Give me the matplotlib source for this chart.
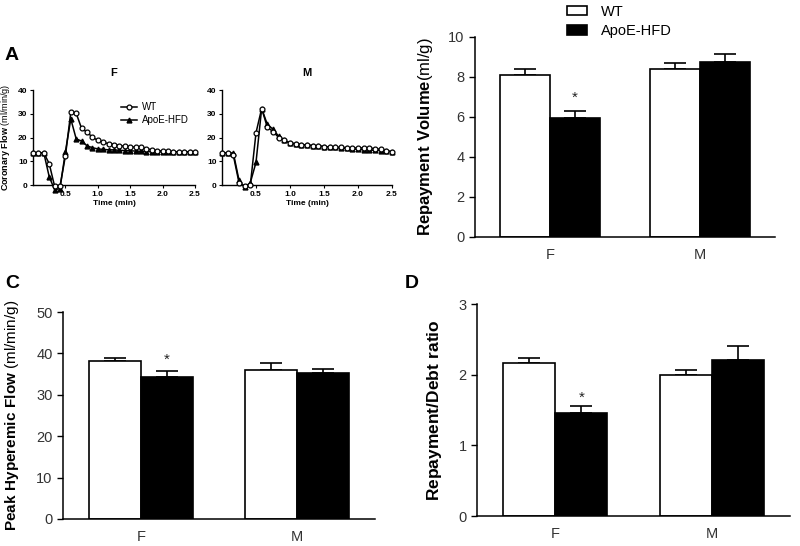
import matplotlib
matplotlib.use("Agg")
from matplotlib import pyplot as plt

plt.rcParams['font.family'] = ['Liberation Sans', 'DejaVu Sans']
plt.rcParams['mathtext.fontset'] = 'custom'
plt.rcParams['mathtext.rm'] = 'Liberation Sans'
plt.rcParams['mathtext.bf'] = 'Liberation Sans:bold'

# time course (seconds, every 5 s)
time_s = [0, 5, 10, 15, 20, 25, 30, 35, 40, 45, 50, 55, 60, 65, 70, 75, 80, 85, 90, 95,
          100, 105, 110, 115, 120, 125, 130, 135, 140, 145, 150]
f_wt = [13.5, 13.5, 13.5, 9.0, -0.5, -0.5, 12.2, 30.7, 30.2, 23.8, 22.3, 20.1, 18.8, 18.0, 17.4, 17.0,
        16.6, 16.3, 16.0, 16.0, 15.9, 15.3, 14.8, 14.5, 14.3, 14.2, 14.0, 14.0, 14.0, 14.0, 14.0]
f_apoe = [13.5, 13.5, 13.5, 3.5, -2.0, -1.5, 14.0, 27.8, 19.4, 18.5, 16.5, 15.7, 15.2, 15.0, 14.8, 14.8,
          14.6, 14.5, 14.4, 14.3, 14.2, 14.1, 14.0, 14.0, 14.0, 13.9, 13.8, 13.8, 13.8, 13.8, 13.8]
m_wt = [13.5, 13.5, 12.5, 1.0, -0.5, 0.0, 22.0, 32.2, 24.3, 22.5, 20.0, 18.8, 17.8, 17.4, 17.0, 16.8,
        16.6, 16.4, 16.2, 16.0, 15.9, 15.8, 15.7, 15.6, 15.6, 15.6, 15.5, 15.3, 15.0, 14.5, 14.0]
m_apoe = [13.5, 13.5, 13.5, 2.0, -1.0, 1.0, 9.5, 32.2, 25.5, 23.5, 20.5, 19.0, 17.5, 17.2, 17.0, 16.8,
          16.6, 16.4, 16.2, 16.0, 15.8, 15.6, 15.4, 15.2, 15.0, 14.8, 14.7, 14.6, 14.5, 14.3, 14.0]

# bar panels: [F, M]
groups = ["F", "M"]
vol_wt, vol_wt_err = [8.1, 8.4], [0.3, 0.28]
vol_apoe, vol_apoe_err = [5.93, 8.75], [0.37, 0.38]
peak_wt, peak_wt_err = [38.1, 36.1], [0.7, 1.5]
peak_apoe, peak_apoe_err = [34.3, 35.3], [1.5, 1.0]
ratio_wt, ratio_wt_err = [2.16, 2.0], [0.07, 0.07]
ratio_apoe, ratio_apoe_err = [1.46, 2.21], [0.09, 0.2]

W, H = 800, 546
fig = plt.figure(figsize=(8, 5.46), dpi=100)


def px_axes(x0, x1, ytop, ybot):
    return fig.add_axes([x0 / W, 1 - ybot / H, (x1 - x0) / W, (ybot - ytop) / H])


def time_panel(ax, wt, apoe, title, show_ylabel, legend):
    t = [s / 60 for s in time_s]
    ax.plot(t, wt, '-o', color='black', mfc='white', mec='black', ms=3.5, mew=0.9, lw=1.1,
            label='WT', clip_on=False, zorder=3)
    ax.plot(t, apoe, '-^', color='black', ms=3.5, lw=1.1, label='ApoE-HFD', clip_on=False, zorder=2)
    ax.set_xlim(0, 2.5)
    ax.set_ylim(0, 40)
    ax.set_xticks([0.5, 1.0, 1.5, 2.0, 2.5])
    ax.set_yticks([0, 10, 20, 30, 40])
    for s in ['top', 'right']:
        ax.spines[s].set_visible(False)
    for s in ['left', 'bottom']:
        ax.spines[s].set_linewidth(1.0)
    ax.tick_params(labelsize=6, length=2.5, width=0.8, pad=1.5)
    for lb in ax.get_xticklabels() + ax.get_yticklabels():
        lb.set_fontweight('bold')
    ax.set_xlabel('Time (min)', fontsize=6, fontweight='bold', labelpad=2)
    ax.set_title(title, fontsize=8, fontweight='bold', pad=10)
    if show_ylabel:
        ax.set_ylabel(r'$\bf{Coronary\ Flow}$ (ml/min/g)', fontsize=6.5)
        ax.yaxis.set_label_coords(-21 / 162, 0.5)
    if legend:
        ax.legend(loc='upper left', bbox_to_anchor=(0.52, 0.91), frameon=False, fontsize=7,
                  handlelength=1.6, handletextpad=0.5, labelspacing=0.3, borderaxespad=0)


def bar_panel(ax, wt, wt_err, apoe, apoe_err, ymax, step, ylabel, lab_off, lab_size, star):
    x = [0, 1]
    bw = 1 / 3
    xw = [v - bw / 2 for v in x]
    xa = [v + bw / 2 for v in x]
    ax.bar(xw, wt, bw, color='white', edgecolor='black', lw=1.2, label='WT', zorder=2)
    ax.bar(xa, apoe, bw, color='black', edgecolor='black', lw=1.2, label='ApoE-HFD', zorder=2)
    ax.errorbar(xw, wt, yerr=[[0, 0], wt_err], fmt='none', ecolor='black', elinewidth=1.2,
                capsize=8, capthick=1.2, zorder=1)
    ax.errorbar(xa, apoe, yerr=[[0, 0], apoe_err], fmt='none', ecolor='black', elinewidth=1.2,
                capsize=8, capthick=1.2, zorder=1)
    ax.text(xa[0], apoe[0] + apoe_err[0] + star, '*', ha='center', va='bottom', fontsize=11, color='#222222')
    ax.set_xlim(-0.5, 1.5)
    ax.set_ylim(0, ymax)
    ax.set_yticks([i * step for i in range(int(round(ymax / step)) + 1)])
    ax.set_xticks(x)
    ax.set_xticklabels(groups)
    for s in ['top', 'right']:
        ax.spines[s].set_visible(False)
    for s in ['left', 'bottom']:
        ax.spines[s].set_linewidth(1.1)
    ax.tick_params(axis='y', labelsize=10.5, length=4, width=1.0, labelcolor='#333333')
    ax.tick_params(axis='x', labelsize=10.5, length=0, pad=8, labelcolor='#333333')
    ax.set_ylabel(ylabel, fontsize=lab_size)
    ax.yaxis.set_label_coords(lab_off, 0.5)


ax_f = px_axes(33, 195, 90, 185)
time_panel(ax_f, f_wt, f_apoe, 'F', True, True)
ax_m = px_axes(222, 392, 90, 185)
time_panel(ax_m, m_wt, m_apoe, 'M', False, False)

ax_b = px_axes(475, 775, 37, 237)
bar_panel(ax_b, vol_wt, vol_wt_err, vol_apoe, vol_apoe_err, 10, 2,
          r'$\bf{Repayment\ Volume}$(ml/g)', -40 / 300, 12, 0.3)
handles, labels = ax_b.get_legend_handles_labels()
fig.legend(handles, labels, loc='upper left', bbox_to_anchor=(567 / W, 1 - 5 / H), frameon=False,
           fontsize=10.5, handlelength=1.4, handleheight=0.6, handletextpad=0.9,
           labelspacing=0.35, borderpad=0, borderaxespad=0)

ax_c = px_axes(63, 375, 312, 519)
bar_panel(ax_c, peak_wt, peak_wt_err, peak_apoe, peak_apoe_err, 50, 10,
          r'$\bf{Peak\ Hyperemic\ Flow}$ (ml/min/g)', -42 / 312, 11, 1.0)

ax_d = px_axes(477, 790, 304, 516)
bar_panel(ax_d, ratio_wt, ratio_wt_err, ratio_apoe, ratio_apoe_err, 3, 1,
          r'$\bf{Repayment/Debt\ ratio}$', -33 / 313, 12.5, 0.03)

fig.text(5 / W, 1 - 56 / H, 'A', fontsize=14, fontweight='bold', va='center')
fig.text(5 / W, 1 - 283 / H, 'C', fontsize=14, fontweight='bold', va='center')
fig.text(405 / W, 1 - 283 / H, 'D', fontsize=14, fontweight='bold', va='center')

fig.savefig('out.png', dpi=100)
